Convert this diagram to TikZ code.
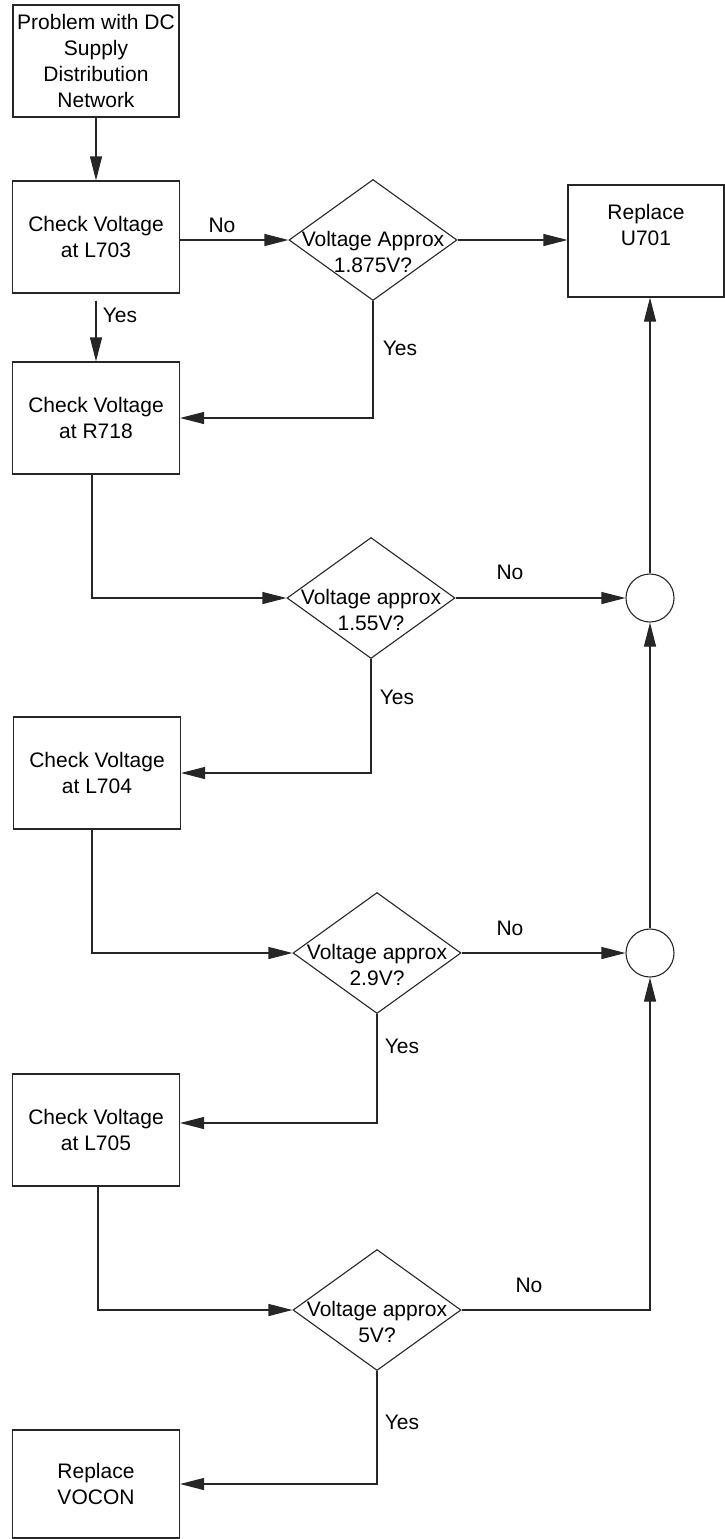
\documentclass[tikz,border=0pt]{standalone}
\usepackage{fontspec}
\setmainfont{Liberation Sans}
\usetikzlibrary{shapes.geometric,arrows.meta}
\begin{document}
\begin{tikzpicture}[x=1pt,y=-1pt,
  every node/.style={font=\fontsize{21}{26}\selectfont},
  ln/.style={line width=1.1pt, draw=black!85},
  box/.style={ln, rectangle, minimum width=167pt, minimum height=112pt, inner sep=0pt, align=center},
  dia/.style={ln, diamond, minimum width=168pt, minimum height=121pt, inner sep=0pt},
  junc/.style={ln, circle, minimum size=48pt, inner sep=0pt},
  txt/.style={align=center, inner sep=0pt},
  lbl/.style={anchor=base, inner sep=0pt},
  arr/.style={ln, -{Triangle[length=24pt,width=12pt]}}]
\useasboundingbox (0,0) rectangle (725,1539);

% nodes
\node[box, minimum width=166pt] (start) at (96,61) {Problem with DC\\Supply\\Distribution\\Network};
\node[box] (l703) at (96,237) {Check Voltage\\at L703};
\node[dia] (d1) at (373,240) {};
\node[txt] (d1t) at ([yshift=-12pt]d1.center) {Voltage Approx\\1.875V?};
\node[box, minimum width=156pt] (u701) at (646,241) {};
\node[txt] (u701t) at ([yshift=16pt]u701.center) {Replace\\U701};
\node[box] (r718) at (96,418) {Check Voltage\\at R718};
\node[dia] (d2) at (371,598) {};
\node[txt] (d2t) at ([yshift=-12pt]d2.center) {Voltage approx\\1.55V?};
\node[junc] (c1) at (650,598) {};
\node[box] (l704) at (97,773) {Check Voltage\\at L704};
\node[dia] (d3) at (377,953) {};
\node[txt] (d3t) at ([yshift=-12pt]d3.center) {Voltage approx\\2.9V?};
\node[junc] (c2) at (650,953) {};
\node[box] (l705) at (96,1130) {Check Voltage\\at L705};
\node[dia] (d4) at (377,1310) {};
\node[txt] (d4t) at ([yshift=-12pt]d4.center) {Voltage approx\\5V?};
\node[box, minimum height=108pt] (vocon) at (96,1484) {Replace\\VOCON};

% labels
\node[lbl] (no1) at (222,232) {No};
\node[lbl] (yes1) at (120,322) {Yes};
\node[lbl] (yes2) at (400,355) {Yes};
\node[lbl] (no2) at (510,579) {No};
\node[lbl] (yes3) at (397,704) {Yes};
\node[lbl] (no3) at (510,935) {No};
\node[lbl] (yes4) at (402,1053) {Yes};
\node[lbl] (no4) at (529,1292) {No};
\node[lbl] (yes5) at (402,1429) {Yes};

% connectors
\draw[arr] (start.south) -- (l703.north);
\draw[arr] (l703.east |- d1.west) -- (d1.west);
\draw[arr] (d1.east) -- (u701.west |- d1.east);
\coordinate (y1) at ([yshift=-7pt]l703.south);
\draw[arr] (y1) -- (y1 |- r718.north);
\draw[arr] (d1.south) |- (r718.east);
\draw[arr] ([xshift=-4pt]r718.south) |- (d2.west);
\draw[arr] (d2.east) -- (c1.west);
\draw[arr] (d2.south) |- (l704.east);
\draw[arr] ([xshift=-5pt]l704.south) |- (d3.west);
\draw[arr] (d3.east) -- (c2.west);
\draw[arr] (d3.south) |- ([yshift=7pt]l705.east);
\draw[arr] ([xshift=2pt]l705.south) |- (d4.west);
\draw[arr] (d4.east) -| (c2.south);
\draw[arr] (d4.south) |- (vocon.east);
\draw[arr] (c2.north) -- (c1.south);
\draw[arr] (c1.north) -- (c1.north |- u701.south);
\end{tikzpicture}
\end{document}
